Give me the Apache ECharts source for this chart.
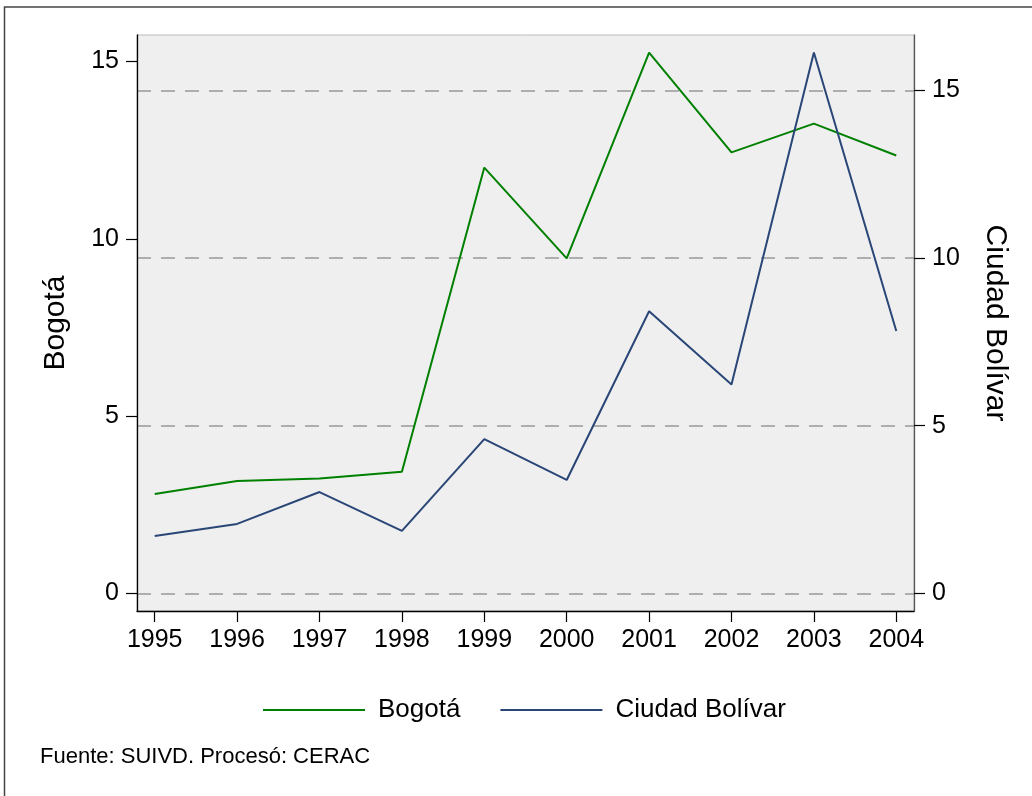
<!DOCTYPE html>
<html>
<head>
<meta charset="utf-8">
<script src="https://cdn.jsdelivr.net/npm/echarts@6/dist/echarts.min.js"></script>
<style>
html,body{margin:0;padding:0;background:#fff;}
#chart{width:1032px;height:796px;}
</style>
</head>
<body>
<div id="chart"></div>
<script>
var years = [1995, 1996, 1997, 1998, 1999, 2000, 2001, 2002, 2003, 2004];
var bogota = [2.80, 3.17, 3.24, 3.43, 12.01, 9.45, 15.25, 12.44, 13.25, 12.35];
var ciudadBolivar = [1.71, 2.07, 3.02, 1.86, 4.60, 3.38, 8.41, 6.23, 16.13, 7.82];
var leftTicks = [0, 5, 10, 15];
var rightTicks = [0, 5, 10, 15];
var seriesNames = ['Bogotá', 'Ciudad Bolívar'];
var footnote = 'Fuente: SUIVD. Procesó: CERAC';

var FONT = 'Liberation Sans, Arial, sans-serif';
function pairs(xs, ys) { return xs.map(function (x, i) { return [x, ys[i]]; }); }

var chart = echarts.init(document.getElementById('chart'), null, {renderer: 'canvas'});
chart.setOption({
  backgroundColor: '#ffffff',
  animation: false,
  grid: {
    left: 137, right: 118, top: 35, bottom: 185,
    show: true, backgroundColor: '#efefef', borderColor: '#bdbdbd', borderWidth: 1
  },
  xAxis: {
    type: 'value', min: 1994.785, max: 2004.215,
    axisLine: {show: true, onZero: false, lineStyle: {color: '#000', width: 1.3}},
    axisTick: {show: true, inside: false, length: 11, customValues: years, lineStyle: {color: '#000', width: 1.2}},
    axisLabel: {show: true, customValues: years, margin: 17, color: '#000', fontSize: 25, fontFamily: FONT,
      formatter: function (v) { return String(v); }},
    splitLine: {show: false}
  },
  yAxis: [
    {
      type: 'value', position: 'left', min: -0.5, max: 15.75,
      name: seriesNames[0], nameLocation: 'middle', nameGap: 66,
      nameTextStyle: {color: '#000', fontSize: 30, fontFamily: FONT},
      axisLine: {show: true, onZero: false, lineStyle: {color: '#000', width: 1.3}},
      axisTick: {show: true, inside: false, length: 11, customValues: leftTicks, lineStyle: {color: '#000', width: 1.2}},
      axisLabel: {show: true, customValues: leftTicks, margin: 18, color: '#000', fontSize: 25, fontFamily: FONT},
      splitLine: {show: false}
    },
    {
      type: 'value', position: 'right', min: -0.528, max: 16.65,
      name: seriesNames[1], nameLocation: 'middle', nameGap: 66, nameRotate: -90,
      nameTextStyle: {color: '#000', fontSize: 30, fontFamily: FONT},
      axisLine: {show: true, onZero: false, lineStyle: {color: '#555', width: 1.3}},
      axisTick: {show: true, inside: false, length: 11, customValues: rightTicks, lineStyle: {color: '#000', width: 1.2}},
      axisLabel: {show: true, customValues: rightTicks, margin: 18, color: '#000', fontSize: 25, fontFamily: FONT},
      splitLine: {show: true, lineStyle: {color: '#999', width: 1.5, type: [14, 10]}}
    }
  ],
  legend: {
    left: 258, top: 692,
    icon: 'rect',
    itemWidth: 102, itemHeight: 2, itemGap: 40,
    textStyle: {color: '#000', fontSize: 26, fontFamily: FONT, padding: [0, 0, 0, 8]},
    data: seriesNames
  },
  graphic: [
    {type: 'rect', shape: {x: 4.5, y: 7, width: 1200, height: 1000}, silent: true,
      style: {fill: 'none', stroke: '#444', lineWidth: 1.5}, z: 100},
    {type: 'text', left: 40, top: 746, silent: true,
      style: {text: footnote, fill: '#000', fontSize: 22, fontFamily: FONT}}
  ],
  series: [
    {name: seriesNames[0], type: 'line', yAxisIndex: 0, data: pairs(years, bogota),
      symbol: 'none', lineStyle: {color: '#008000', width: 2}, itemStyle: {color: '#008000'}},
    {name: seriesNames[1], type: 'line', yAxisIndex: 1, data: pairs(years, ciudadBolivar),
      symbol: 'none', lineStyle: {color: '#2a4677', width: 2}, itemStyle: {color: '#2a4677'}}
  ]
});
</script>
</body>
</html>
